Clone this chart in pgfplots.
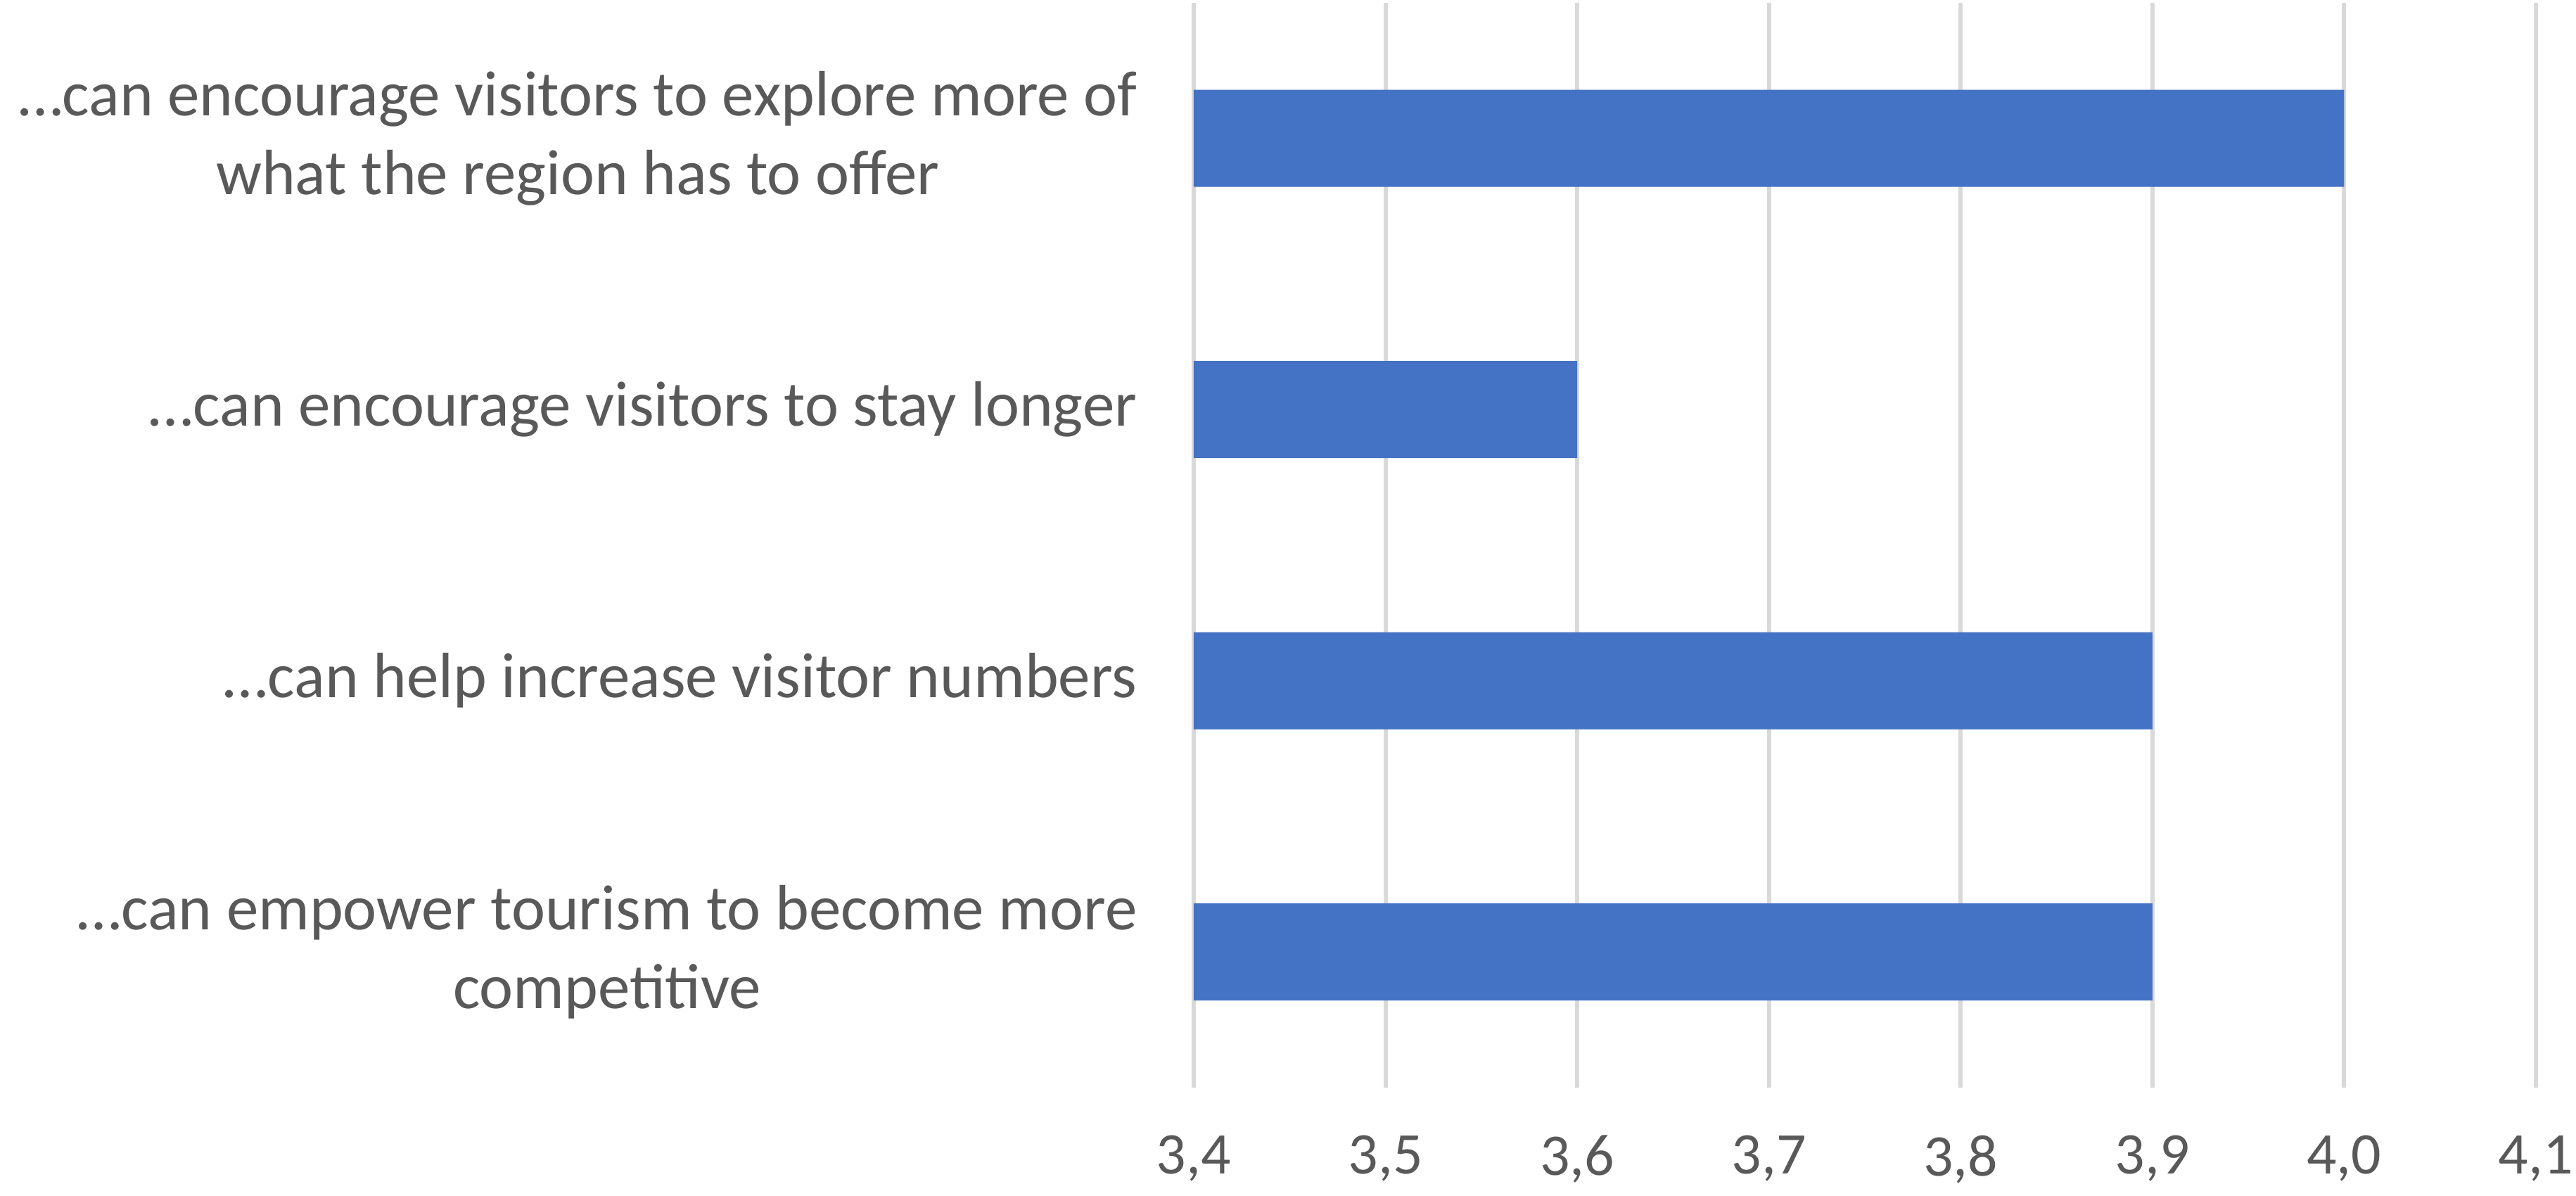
\documentclass[border=0pt]{standalone}
\usepackage{fontspec}
\setmainfont{Carlito}
\usepackage{pgfplots}
\pgfplotsset{compat=1.18}
\definecolor{barblue}{HTML}{4472C4}
\definecolor{gridgray}{HTML}{D9D9D9}
\definecolor{textgray}{HTML}{595959}
\begin{document}
\begin{tikzpicture}
% picture frame: 3662 x 1700 px at 0.1pt per px
\useasboundingbox (-169.7pt,-15.4pt) rectangle (196.5pt,154.6pt);
\begin{axis}[
  at={(0,0)}, anchor=south west,
  scale only axis, width=190.8pt, height=154.2pt,
  xbar, bar width=13.8pt,
  xmin=3.4, xmax=4.1, ymin=-0.5, ymax=3.5,
  xtick={3.4,3.5,3.6,3.7,3.8,3.9,4.0,4.1},
  ytick={0,1,2,3},
  yticklabels={
    {…can empower tourism to become more\\competitive},
    {…can help increase visitor numbers},
    {…can encourage visitors to stay longer},
    {…can encourage visitors to explore more of\\what the region has to offer}},
  xmajorgrids,
  major grid style={gridgray, line width=0.6pt},
  axis line style={draw=none},
  tick style={draw=none},
  /pgf/number format/.cd, assume math mode=true, use comma, fixed, fixed zerofill, precision=1,
  /pgfplots/.cd,
  xticklabel style={font=\fontsize{8.4}{10}\selectfont, text=textgray, inner sep=0pt, anchor=north, yshift=-6.6pt},
  yticklabel style={font=\fontsize{9.1}{11.2}\selectfont, text=textgray, align=center, inner sep=0pt, anchor=east, xshift=-3.6pt},
]
\addplot[fill=barblue, draw=none] coordinates {
  (3.9,0)
  (3.9,1)
  (3.6,2)
  (4.0,3)
};
\end{axis}
\end{tikzpicture}
\end{document}
